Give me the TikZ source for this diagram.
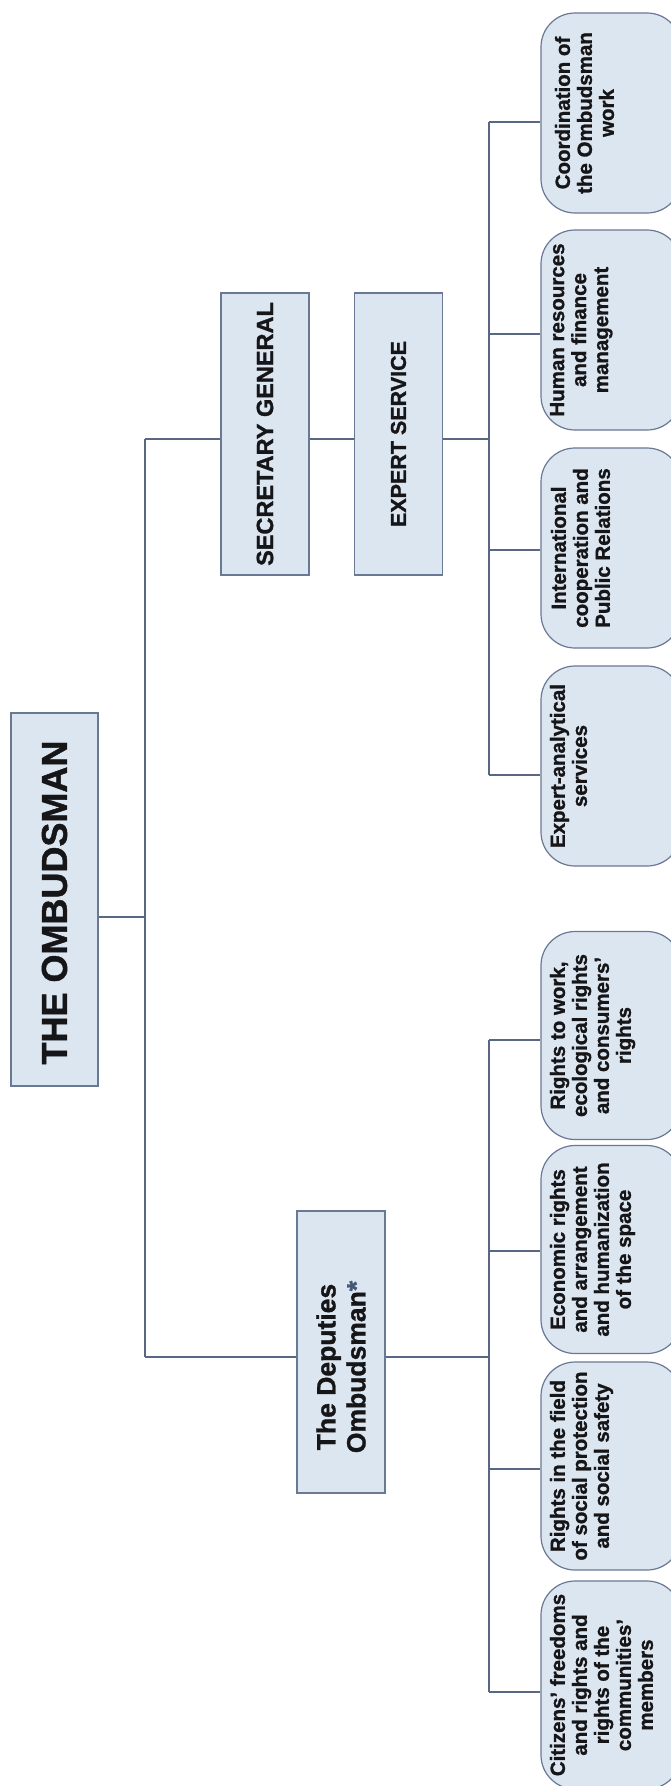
\documentclass[tikz,border=0pt]{standalone}
\usepackage{fontspec}
\setmainfont{Liberation Sans}[BoldFeatures={FakeBold=1.2}]
\definecolor{boxfill}{RGB}{220,230,241}
\definecolor{boxedge}{RGB}{105,120,148}
\definecolor{linkcol}{RGB}{88,104,132}
\definecolor{inkcol}{RGB}{22,22,24}
\definecolor{starcol}{RGB}{70,88,120}
% text of a rounded unit box: width along the text, gap before the first line, lines
\newcommand\unitlines[3]{\parbox[c][140pt][t]{#1}{\centering\vspace*{#2}#3\par}}

\begin{document}
\begin{tikzpicture}[x=1pt,y=-1pt,
  orgbox/.style={draw=boxedge, fill=boxfill, line width=1.2pt, rotate=90,
    inner sep=0pt, text=inkcol},
  unitbox/.style={draw=boxedge, fill=boxfill, line width=1.2pt, rotate=90,
    inner sep=0pt, rounded corners=34pt, text=inkcol,
    font=\bfseries\fontsize{20.5}{22}\selectfont},
  link/.style={draw=linkcol, line width=1.3pt}]
\useasboundingbox (0,0) rectangle (671,1786);
\clip (0,0) rectangle (671,1786);
\fill[white] (0,0) rectangle (671,1786);

% head of the office
\node[orgbox, minimum width=373pt, minimum height=87pt,
  font=\bfseries\fontsize{36}{42}\selectfont] (omb) at (54.5,899.5)
  {THE OMBUDSMAN\hspace*{6pt}};

% secretariat branch
\node[orgbox, minimum width=282pt, minimum height=88pt,
  font=\bfseries\fontsize{23.5}{28}\selectfont] (sg) at (265,434) {SECRETARY GENERAL};
\node[orgbox, minimum width=282pt, minimum height=88pt,
  font=\bfseries\fontsize{21.5}{26}\selectfont] (es) at (398.5,434) {EXPERT SERVICE};

% deputies branch
\node[orgbox, align=center, minimum width=282pt, minimum height=88pt,
  font=\bfseries\fontsize{26.5}{30}\selectfont] (dep) at (341,1352)
  {The Deputies\hspace*{30pt}\\Ombudsman{\color{starcol}*}\hspace*{30pt}};

% units under the expert service
\node[unitbox] (coord) at (611,113) {\unitlines{200pt}{14pt}{Coordination of\\the Ombudsman\\work}};
\node[unitbox] (hr) at (611,330) {\unitlines{200pt}{9pt}{Human resources\\and finance\\management}};
\node[unitbox] (intl) at (611,548) {\unitlines{200pt}{10pt}{International\\cooperation and\\Public Relations}};
\node[unitbox] (ea) at (611,766) {\unitlines{200pt}{9pt}{Expert-analytical\\services}};

% units under the deputies
\node[unitbox] (rw) at (611,1035.5) {\unitlines{208pt}{9pt}{Rights to work,\\ecological rights\\and consumers’\\rights}};
\node[unitbox] (econ) at (611,1249.5) {\unitlines{208pt}{9pt}{Economic rights\\and arrangement\\and humanization\\of the space}};
\node[unitbox] (rf) at (611,1466) {\unitlines{208pt}{9pt}{Rights in the field\\of social protection\\and social safety}};
\node[unitbox] (cit) at (611,1685) {\unitlines{208pt}{9pt}{Citizens’ freedoms\\and rights and\\rights of the\\communities’\\members}};

% main trunk
\coordinate (tTop) at (145,439);
\coordinate (tMid) at (145,917);
\coordinate (tBot) at (145,1357);
\draw[link] (tTop) -- (tBot);
\draw[link] (omb.south |- tMid) -- (tMid);
\draw[link] (tTop) -- (sg.north |- tTop);
\draw[link] (sg.south |- tTop) -- (es.north |- tTop);
\draw[link] (tBot) -- (dep.north |- tBot);

% expert service bus
\coordinate (rJoin) at (489,439);
\coordinate (rCoord) at (489,122);
\coordinate (rHr) at (489,334);
\coordinate (rIntl) at (489,550);
\coordinate (rEa) at (489,775);
\draw[link] (es.south |- rJoin) -- (rJoin);
\draw[link] (rCoord) -- (rEa);
\draw[link] (rCoord) -- (coord.north |- rCoord);
\draw[link] (rHr) -- (hr.north |- rHr);
\draw[link] (rIntl) -- (intl.north |- rIntl);
\draw[link] (rEa) -- (ea.north |- rEa);

% deputies bus
\coordinate (lJoin) at (489,1357);
\coordinate (lRw) at (489,1040);
\coordinate (lEcon) at (489,1251);
\coordinate (lRf) at (489,1469);
\coordinate (lCit) at (489,1692);
\draw[link] (dep.south |- lJoin) -- (lJoin);
\draw[link] (lRw) -- (lCit);
\draw[link] (lRw) -- (rw.north |- lRw);
\draw[link] (lEcon) -- (econ.north |- lEcon);
\draw[link] (lRf) -- (rf.north |- lRf);
\draw[link] (lCit) -- (cit.north |- lCit);
\end{tikzpicture}
\end{document}
